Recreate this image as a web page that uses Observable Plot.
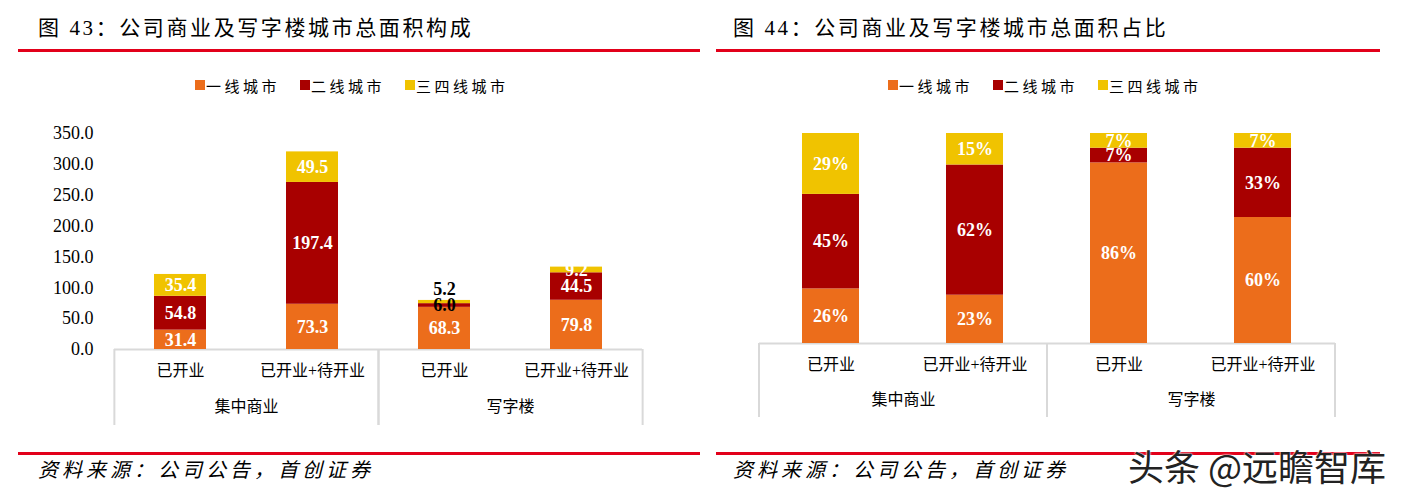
<!DOCTYPE html>
<html>
<head>
<meta charset="utf-8">
<script src="https://cdn.jsdelivr.net/npm/d3@7"></script>
<script src="https://cdn.jsdelivr.net/npm/@observablehq/plot@0.6"></script>
<style>
  html, body { margin: 0; padding: 0; background: #fff; }
  body { width: 1403px; height: 498px; position: relative; overflow: hidden;
         font-family: "Liberation Serif", "Noto Sans CJK SC", serif; color: #000; }
  .title { position: absolute; top: 13px; height: 30px; line-height: 30px; font-size: 21px;
           letter-spacing: 2.6px; white-space: nowrap; }
  .redline { position: absolute; height: 2.5px; background: #E2001A; }
  .legend { position: absolute; top: 75px; height: 20px; display: flex; align-items: center;
            font-size: 15px; letter-spacing: 3.5px; white-space: nowrap; }
  .legend .item { display: flex; align-items: center; margin-right: 20px; }
  .legend .sw { width: 10px; height: 10px; margin-right: 1px; }
  .chart { position: absolute; top: 120px; }
  .source { position: absolute; top: 456px; height: 28px; line-height: 28px; font-size: 20px;
            font-style: italic; letter-spacing: 4px; white-space: nowrap; }
  .mark { position: absolute; left: 1128px; top: 443px; font-size: 36px; line-height: 44px;
          font-family: "Noto Sans CJK SC", sans-serif; color: #222; white-space: nowrap;
          text-shadow: 0 0 2px #fff, 0 0 2px #fff; }
  g[aria-label="stage-label"] text, g[aria-label="group-label"] text { letter-spacing: 2px; }
</style>
</head>
<body>
<div class="title" style="left:38px">图 43：公司商业及写字楼城市总面积构成</div>
<div class="title" style="left:733px">图 44：公司商业及写字楼城市总面积占比</div>
<div class="redline" style="left:18px; width:682px; top:49px"></div>
<div class="redline" style="left:716px; width:664px; top:49px"></div>
<div class="legend" id="legendL" style="left:195px"></div>
<div class="legend" id="legendR" style="left:888px"></div>
<div class="chart" id="chartL" style="left:0px"></div>
<div class="chart" id="chartR" style="left:700px"></div>
<div class="redline" style="left:18px; width:682px; top:452px"></div>
<div class="redline" style="left:716px; width:664px; top:452px"></div>
<div class="source" style="left:38px">资料来源：公司公告，首创证券</div>
<div class="source" style="left:733px">资料来源：公司公告，首创证券</div>
<div class="mark">头条 @远瞻智库</div>
<script>
// ---------- data ----------
const groups = ["集中商业", "写字楼"];
const stages = ["已开业", "已开业+待开业"];
const tiers = ["一线城市", "二线城市", "三四线城市"];
const tierColors = ["#EC6D1B", "#A80000", "#F0C300"];

// 总面积, order: 集中商业-已开业, 集中商业-已开业+待开业, 写字楼-已开业, 写字楼-已开业+待开业
const tier1Area = [31.4, 73.3, 68.3, 79.8];
const tier2Area = [54.8, 197.4, 6.0, 44.5];
const tier34Area = [35.4, 49.5, 5.2, 9.2];

// 占比 (%)
const tier1Share = [26, 23, 86, 60];
const tier2Share = [45, 62, 7, 33];
const tier34Share = [29, 15, 7, 7];

const yTicks = [0, 50, 100, 150, 200, 250, 300, 350];

// ---------- tables ----------
function buildRows(series) {
  const rows = [];
  for (let i = 0; i < 4; i++) {
    tiers.forEach((t, k) => {
      rows.push({group: groups[Math.floor(i / 2)], stage: stages[i % 2], tier: t, value: series[k][i]});
    });
  }
  return rows;
}
const areaRows = buildRows([tier1Area, tier2Area, tier34Area]);
const shareRows = buildRows([tier1Share, tier2Share, tier34Share]);
const cells = groups.flatMap(g => stages.map(s => ({group: g, stage: s})));

const numFont = "Liberation Serif, Noto Sans CJK SC, serif";

// ---------- legends ----------
for (const id of ["legendL", "legendR"]) {
  const el = document.getElementById(id);
  tiers.forEach((t, k) => {
    const item = document.createElement("div");
    item.className = "item";
    const sw = document.createElement("div");
    sw.className = "sw";
    sw.style.background = tierColors[k];
    const lab = document.createElement("span");
    lab.textContent = t;
    item.appendChild(sw); item.appendChild(lab);
    el.appendChild(item);
  });
}

// ---------- shared axis-box marks ----------
function boxMarks(step, drop, stageDy, groupDy) {
  const stroke = "#D9D9D9";
  return [
    Plot.ruleY([0], {stroke, strokeWidth: 2}),
    Plot.ruleX(groups, {fx: d => d, x: () => stages[0], dx: -step / 2, y1: 0, insetBottom: -drop, stroke, strokeWidth: 2}),
    Plot.ruleX(groups, {fx: d => d, x: () => stages[1], dx: step / 2, y1: 0, insetBottom: -drop, stroke, strokeWidth: 2}),
    Plot.text(cells, {fx: "group", x: "stage", text: "stage", frameAnchor: "bottom", dy: stageDy,
      fontSize: 16, fill: "#000", ariaLabel: "stage-label"}),
    Plot.text(groups, {fx: d => d, text: d => d, frameAnchor: "bottom", dy: groupDy,
      fontSize: 16, fill: "#000", ariaLabel: "group-label"})
  ];
}

// ---------- left chart ----------
{
  const W = 700, H = 320, mL = 113, mR = 58, mT = 13, mB = 91;
  const step = (W - mL - mR) / 2 / 2;
  const chart = Plot.plot({
    width: W, height: H, marginTop: mT, marginBottom: mB, marginLeft: mL, marginRight: mR,
    style: {fontFamily: numFont, fontSize: "18px", color: "#000", background: "transparent", overflow: "visible"},
    fx: {domain: groups, padding: 0, axis: null},
    x: {domain: stages, paddingInner: 0.606, paddingOuter: 0.303, axis: null},
    y: {domain: [0, 350], ticks: yTicks, tickFormat: d3.format(".1f"), tickSize: 0, tickPadding: 21, label: null, line: false},
    color: {domain: tiers, range: tierColors},
    marks: [
      ...boxMarks(step, 76, 26, 62),
      Plot.barY(areaRows, {fx: "group", x: "stage", y: "value", fill: "tier"}),
      Plot.text(areaRows, Plot.stackY({fx: "group", x: "stage", y: "value",
        text: d => (d.tier === tiers[2] && d.value < 7) ? null : d3.format(".1f")(d.value),
        fill: d => d.value < 7 ? "#000" : "#fff", fontWeight: "bold", fontSize: 18, fontFamily: numFont})),
      Plot.text(areaRows, Plot.stackY({fx: "group", x: "stage", y: "value",
        text: d => (d.tier === tiers[2] && d.value < 7) ? d3.format(".1f")(d.value) : null,
        fill: "#000", dy: -13, fontWeight: "bold", fontSize: 18, fontFamily: numFont}))
    ]
  });
  document.getElementById("chartL").appendChild(chart);
}

// ---------- right chart ----------
{
  const W = 703, H = 320, mL = 59, mR = 68, mT = 13, mB = 97;
  const step = (W - mL - mR) / 2 / 2;
  const chart = Plot.plot({
    width: W, height: H, marginTop: mT, marginBottom: mB, marginLeft: mL, marginRight: mR,
    style: {fontFamily: numFont, fontSize: "18px", color: "#000", background: "transparent", overflow: "visible"},
    fx: {domain: groups, padding: 0, axis: null},
    x: {domain: stages, paddingInner: 0.604, paddingOuter: 0.302, axis: null},
    y: {domain: [0, 100], axis: null},
    color: {domain: tiers, range: tierColors},
    marks: [
      ...boxMarks(step, 74, 26, 61),
      Plot.barY(shareRows, {fx: "group", x: "stage", y: "value", fill: "tier"}),
      Plot.text(shareRows, Plot.stackY({fx: "group", x: "stage", y: "value",
        text: d => d.value + "%", fill: "#fff", fontWeight: "bold", fontSize: 18, fontFamily: numFont}))
    ]
  });
  document.getElementById("chartR").appendChild(chart);
}
</script>
</body>
</html>
